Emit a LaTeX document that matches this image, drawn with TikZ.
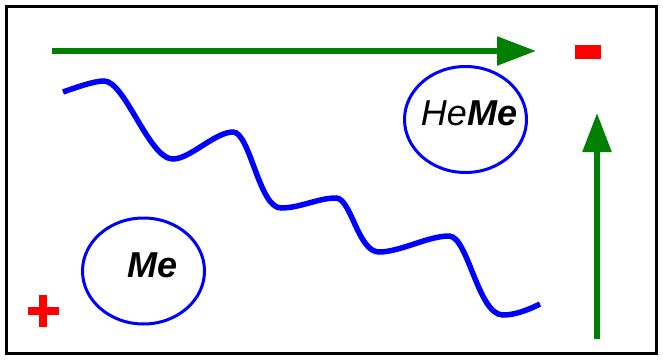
\documentclass[tikz,border=0pt]{standalone}
\usepackage{fontspec}
\setmainfont{Liberation Sans}
\usetikzlibrary{arrows.meta,shapes.geometric}
\definecolor{dgreen}{RGB}{0,128,0}
\definecolor{pblue}{RGB}{0,0,255}
\definecolor{pred}{RGB}{255,0,0}
\tikzset{
  blob/.style={draw=pblue, line width=3pt, ellipse, minimum width=122pt, minimum height=106pt, inner sep=0pt, fill=white},
  lbl/.style={anchor=base, inner sep=0pt, font=\fontsize{36}{40}\selectfont\itshape},
  garrow/.style={draw=dgreen, line width=5.5pt, -{Triangle[length=39pt,width=28pt]}, fill=dgreen},
  wave/.style={draw=pblue, line width=5.5pt},
  sign/.style={fill=pred, draw=none}
}
\begin{document}
\begin{tikzpicture}[x=1pt,y=-1pt]
\useasboundingbox (0,0) rectangle (663,361);
\fill[white] (0,0) rectangle (663,361);
\draw[line width=3pt] (6.5,6.5) rectangle (656.5,353.5);
% top arrow
\coordinate (ta) at (52,51);
\coordinate (tb) at (536,51);
\draw[garrow] (ta) -- (tb);
% right arrow
\coordinate (ra) at (597,339);
\coordinate (rb) at (597,113);
\draw[garrow] (ra) -- (rb);
% minus
\fill[sign] (575,45) rectangle (601,59);
% plus
\fill[sign] (28,307) rectangle (59,315);
\fill[sign] (39,295) rectangle (47,327);
% wave
\draw[wave] (63,92) .. controls (80,86) and (95,81) .. (104,81)
  .. controls (125,81) and (149,159) .. (173,159)
  .. controls (190,159) and (215,132) .. (233,132)
  .. controls (250,132) and (259,208) .. (281,208)
  .. controls (300,208) and (318,198) .. (336,198)
  .. controls (351,198) and (358,252) .. (379,252)
  .. controls (400,252) and (428,236) .. (449,236)
  .. controls (468,236) and (478,315) .. (503,315)
  .. controls (515,315) and (528,310) .. (540,304);
% ellipses
\node[blob] (heme) at (465.5,119.5) {};
\node[lbl] (hemetext) at (469,125) {He\textbf{Me}};
\node[blob] (me) at (143.5,271) {};
\node[lbl] (metext) at (153,277) {\textbf{Me}};
\end{tikzpicture}
\end{document}
